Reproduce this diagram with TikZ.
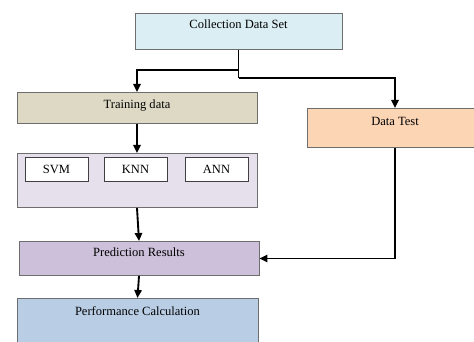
\documentclass[tikz,border=0pt]{standalone}
\usepackage{fontspec}
\setmainfont{Liberation Serif}
\usetikzlibrary{positioning, arrows.meta}

\definecolor{collfill}{RGB}{218,238,244}
\definecolor{trainfill}{RGB}{221,217,196}
\definecolor{testfill}{RGB}{252,213,180}
\definecolor{modelfill}{RGB}{229,224,236}
\definecolor{predfill}{RGB}{204,192,218}
\definecolor{perffill}{RGB}{185,205,229}
\definecolor{edge}{RGB}{110,110,110}

\begin{document}
\begin{tikzpicture}[x=0.03cm, y=-0.03cm,
	block/.style={draw=edge, line width=0.8pt, inner sep=0pt, anchor=north, font=\fontsize{10.7}{13}\selectfont},
	algo/.style={draw=black!75, fill=white, line width=0.7pt, minimum width=1.89cm, minimum height=0.72cm, inner sep=0pt, font=\fontsize{10.7}{13}\selectfont},
	flow/.style={line width=1.6pt, -{Triangle[length=2.4mm,width=2.2mm]}}]
	\useasboundingbox (0,0) rectangle (474,342);
	\draw node (coll)[block, fill=collfill, minimum width=6.21cm, text height=0.465cm, text depth=0.615cm] at (238.5,13) {Collection Data Set};
	\draw node (train)[block, fill=trainfill, minimum width=7.2cm, text height=0.495cm, text depth=0.435cm] at (137,92) {Training data};
	\draw node (test)[block, fill=testfill, minimum width=5.28cm, text height=0.525cm, text depth=0.645cm] at (395,108) {Data Test};
	\draw node (models)[block, fill=modelfill, minimum width=7.2cm, minimum height=1.62cm] at (137,153) {};
	\draw node (svm)[algo] at (56.5,169) {SVM};
	\draw node (knn)[algo] at (135.5,169) {KNN};
	\draw node (ann)[algo] at (216.5,169) {ANN};
	\draw node (pred)[block, fill=predfill, minimum width=7.2cm, text height=0.465cm, text depth=0.555cm] at (139,241) {Prediction Results};
	\draw node (perf)[block, fill=perffill, minimum width=7.23cm, text height=0.525cm, text depth=1.275cm] at (137.5,298) {Performance Calculation};
	\coordinate (split) at (238.5,70);
	\coordinate (fork) at (238.5,78);
	\draw[line width=1.6pt] (coll.south)--(fork);
	\draw[flow] (split) -| (train.north);
	\draw[flow] (fork) -| (test.north);
	\draw[flow] (train)--(models);
	\draw[flow] (models.south)--(pred.north);
	\draw[flow] (test.south) |- (pred.east);
	\draw[flow] (pred.south)--(perf.north);
\end{tikzpicture}
\end{document}
